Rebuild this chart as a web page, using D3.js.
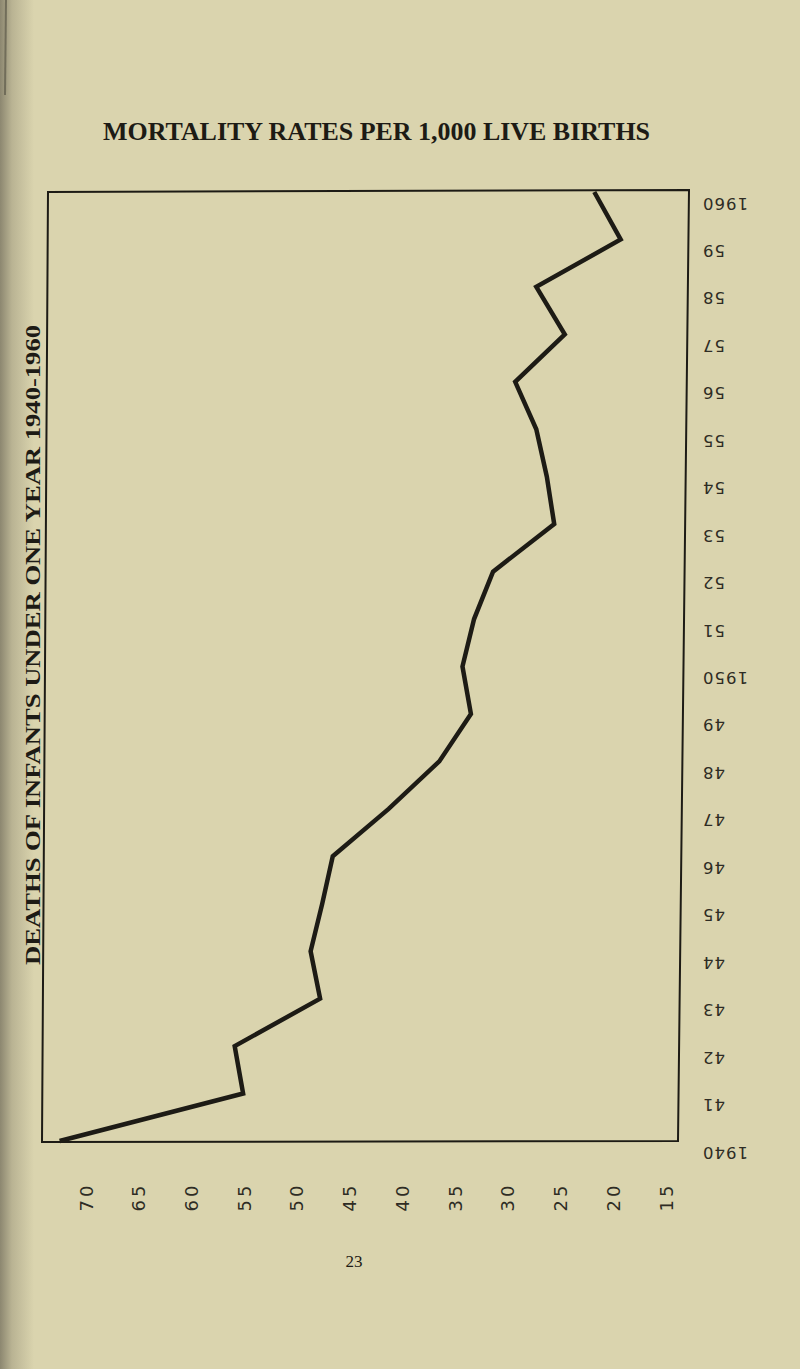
<!DOCTYPE html>
<html><head><meta charset="utf-8">
<script src="https://cdn.jsdelivr.net/npm/d3@7"></script>
<style>html,body{margin:0;padding:0;background:#dad4ae;}svg{display:block;}</style>
</head><body>
<svg id="chart" width="800" height="1369"></svg>
<script>
// ---- data ----
const years = [1940,1941,1942,1943,1944,1945,1946,1947,1948,1949,1950,1951,1952,1953,1954,1955,1956,1957,1958,1959,1960];
const rates = [72.5,55.1,55.9,47.8,48.7,47.6,46.6,41.3,36.5,33.5,34.3,33.2,31.4,25.6,26.3,27.3,29.3,24.6,27.3,19.3,21.8];
const yearLabels = ["1940","41","42","43","44","45","46","47","48","49","1950","51","52","53","54","55","56","57","58","59","1960"];
const rateTicks = [70,65,60,55,50,45,40,35,30,25,20,15];
const title = "MORTALITY RATES PER 1,000 LIVE BIRTHS";
const sideTitle = "DEATHS OF INFANTS UNDER ONE YEAR 1940-1960";
const pageNumber = "23";

const svg = d3.select("#chart");
const ink = "#1d1b15";

// paper
const defs = svg.append("defs");
const g1 = defs.append("linearGradient").attr("id","edge").attr("x1",0).attr("x2",1).attr("y1",0).attr("y2",0);
g1.append("stop").attr("offset",0).attr("stop-color","#8c8770");
g1.append("stop").attr("offset",0.35).attr("stop-color","#b9b393");
g1.append("stop").attr("offset",1).attr("stop-color","#dad4ae");
svg.append("rect").attr("width",800).attr("height",1369).attr("fill","#dad4ae");
svg.append("rect").attr("width",34).attr("height",1369).attr("fill","url(#edge)");
svg.append("line").attr("x1",6).attr("x2",5).attr("y1",0).attr("y2",95).attr("stroke","#5d5a4a").attr("stroke-width",2).attr("opacity",0.7);

// scales
const x = d3.scaleLinear().domain([70,15]).range([86,666]);
const y = d3.scaleLinear().domain([1960,1940]).range([192,1141]);

// frame (slightly skewed like the scan)
svg.append("path")
  .attr("d","M48,192 L689,190 L678,1141 L42,1142 Z")
  .attr("fill","none").attr("stroke",ink).attr("stroke-width",2);

// line
const line = d3.line().x((d,i)=>x(rates[i])).y(d=>y(d));
svg.append("path").datum(years).attr("d",line)
  .attr("fill","none").attr("stroke",ink).attr("stroke-width",4.5)
  .attr("stroke-linejoin","miter").attr("stroke-linecap","butt");

// year labels (upside down)
svg.append("g").selectAll("text").data(years).join("text")
  .attr("transform",d=>`translate(702,${y(d)+11}) rotate(180)`)
  .attr("text-anchor","end").attr("dominant-baseline","central")
  .attr("font-family","DejaVu Sans").attr("font-size",16.5)
  .attr("fill","#2e2c24").attr("letter-spacing",1)
  .text((d,i)=>yearLabels[i]);

// rate tick labels (rotated)
svg.append("g").selectAll("text").data(rateTicks).join("text")
  .attr("transform",d=>`translate(${x(d)},1197) rotate(-90)`)
  .attr("text-anchor","middle").attr("dominant-baseline","central")
  .attr("font-family","DejaVu Sans").attr("font-size",18)
  .attr("letter-spacing",3).attr("fill","#2e2c24")
  .text(d=>d);

// titles
svg.append("text").attr("x",103).attr("y",140)
  .attr("textLength",547).attr("lengthAdjust","spacingAndGlyphs")
  .attr("font-family","Liberation Serif").attr("font-weight","bold").attr("font-size",25)
  .attr("fill",ink).text(title);

svg.append("text").attr("transform","translate(40,965) rotate(-90)")
  .attr("textLength",640).attr("lengthAdjust","spacingAndGlyphs")
  .attr("font-family","Liberation Serif").attr("font-weight","bold").attr("font-size",21)
  .attr("fill",ink).text(sideTitle);

svg.append("text").attr("x",354).attr("y",1267).attr("text-anchor","middle")
  .attr("font-family","Liberation Serif").attr("font-size",17).attr("fill",ink).text(pageNumber);
</script>
</body></html>
